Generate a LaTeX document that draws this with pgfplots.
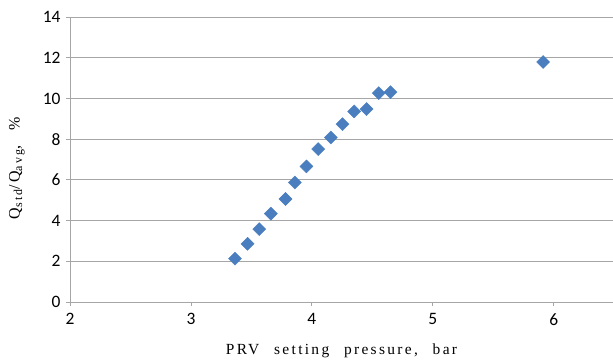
\documentclass[border=0pt]{standalone}
\usepackage{fontspec}
\setmainfont{Carlito}
\newfontfamily\labfont[LetterSpace=15,WordSpace=2.4]{Liberation Serif}
\newfontfamily\subfont[LetterSpace=18]{Liberation Serif}
\newcommand{\sub}[1]{\raisebox{-0.35ex}{\subfont\fontsize{12}{12}\selectfont #1}}
\usepackage{pgfplots}
\pgfplotsset{compat=1.18}
\definecolor{mk}{HTML}{4A7EBF}
\definecolor{gr}{HTML}{A6A6A6}
\begin{document}
\begin{tikzpicture}
\begin{axis}[
  scale only axis,
  width=543bp, height=285bp,
  xmin=2, xmax=6.49, ymin=0, ymax=14,
  xtick={2,3,4,5,6}, ytick={0,2,4,6,8,10,12,14},
  xticklabels={2,3,4,5,6},
  yticklabels={0,2,4,6,8,10,12,14},
  axis lines=left,
  axis line style={gr, -, line width=0.8pt},
  x axis line style={-}, y axis line style={-},
  tick style={gr, line width=0.8pt},
  tick align=outside,
  major tick length=4bp,
  ymajorgrids,
  grid style={gr, line width=0.8pt},
  tick label style={font=\fontsize{17.5}{19}\selectfont, text=black},
  xticklabel style={yshift=-4bp},
  yticklabel style={xshift=-2bp},
  xlabel={\labfont\fontsize{15.5}{17}\selectfont PRV setting pressure, bar},
  xlabel style={at={(axis description cs:0.5,0)}, anchor=center, yshift=-49bp},
  ylabel={\labfont\fontsize{16}{17}\selectfont Q\sub{std}/Q\sub{avg}, \%},
  ylabel style={at={(axis description cs:-0.098,0.47)}, anchor=center},
  clip=false,
]
\addplot[only marks, mark=square*, mark size=4.6bp, mark options={rotate=45, fill=mk, draw=mk}]
coordinates {
(3.364,2.13) (3.468,2.86) (3.565,3.58) (3.661,4.34) (3.782,5.06)
(3.860,5.87) (3.955,6.66) (4.052,7.51) (4.157,8.08) (4.253,8.74)
(4.350,9.36) (4.452,9.48) (4.553,10.26) (4.650,10.31) (5.912,11.79)
};
\end{axis}
\pgfresetboundingbox
\path ([shift={(-70bp,-58bp)}]current axis.south west) rectangle ([shift={(0bp,17bp)}]current axis.north east);
\end{tikzpicture}
\end{document}
